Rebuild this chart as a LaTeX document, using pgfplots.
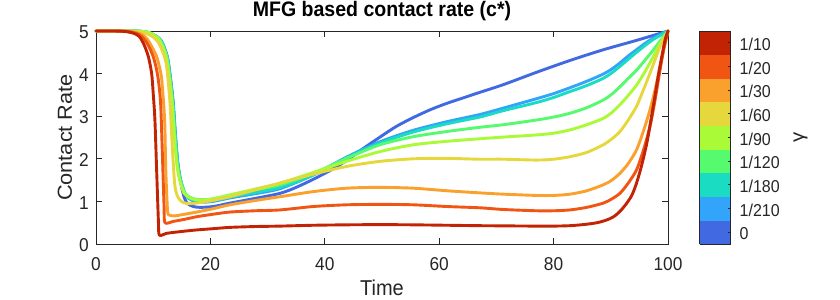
\documentclass[border=0pt]{standalone}
\usepackage{pgfplots}
\pgfplotsset{compat=1.18}
\usepackage{fontspec}
\setmainfont{Liberation Sans}[FakeStretch=0.93]
\newfontfamily\rotfont{Liberation Sans}[FakeStretch=1.07]
\definecolor{axgray}{RGB}{38,38,38}
\definecolor{c0}{RGB}{65,105,225}
\definecolor{c210}{RGB}{50,165,250}
\definecolor{c180}{RGB}{25,220,195}
\definecolor{c120}{RGB}{85,250,110}
\definecolor{c90}{RGB}{170,250,55}
\definecolor{c60}{RGB}{230,215,60}
\definecolor{c30}{RGB}{250,160,45}
\definecolor{c20}{RGB}{240,85,20}
\definecolor{c10}{RGB}{195,35,5}
\newcommand{\tickfont}{\fontsize{18.6bp}{20bp}\selectfont}
\newcommand{\cbfont}{\fontsize{17.2bp}{20bp}\selectfont}
\begin{document}
\begin{tikzpicture}
\path[use as bounding box] (0,0) rectangle (840bp,300bp);
\begin{axis}[
  at={(96bp,56bp)}, anchor=south west, scale only axis,
  width=572bp, height=213bp,
  xmin=0, xmax=100, ymin=0, ymax=5,
  clip=false,
  xtick={0,20,...,100}, ytick={0,1,...,5},
  tick align=inside, xtick pos=both, ytick pos=both,
  major tick length=5.7bp,
  axis line style={draw=axgray, line width=0.75bp},
  every tick/.style={draw=axgray, line width=0.75bp},
  /pgf/number format/assume math mode=true,
  xticklabel style={font=\tickfont, text=axgray, anchor=base, inner sep=0pt, yshift=-26bp},
  yticklabel style={font=\tickfont, text=axgray, anchor=base east, inner sep=0pt, xshift=-7bp, yshift=-7.7bp},
  title={MFG based contact rate (c*)},
  title style={font=\bfseries\fontsize{21bp}{24bp}\selectfont, text=black, at={(axis description cs:0.5,1)}, anchor=base, yshift=9bp},
  xlabel={Time},
  xlabel style={font=\fontsize{21.5bp}{24bp}\selectfont, text=axgray, at={(axis description cs:0.5,0)}, anchor=base, yshift=-51bp},
  ylabel={Contact Rate},
  ylabel style={font=\rotfont\fontsize{20.3bp}{24bp}\selectfont, text=axgray, at={(axis description cs:-0.04196,0.5)}, anchor=base},
  colormap={gam}{rgb255=(65,105,225) rgb255=(50,165,250) rgb255=(25,220,195) rgb255=(85,250,110) rgb255=(170,250,55) rgb255=(230,215,60) rgb255=(250,160,45) rgb255=(240,85,20) rgb255=(195,35,5)},
  colormap access=piecewise constant,
  point meta min=0, point meta max=9,
  colorbar,
  colorbar style={
    at={(parent axis.north east)}, anchor=north west, xshift=23bp,
    scale only axis, width=31bp, height=213bp,
    ytick={0.5,1.5,2.5,3.5,4.5,5.5,6.5,7.5,8.5},
    yticklabels={0,1/210,1/180,1/120,1/90,1/60,1/30,1/20,1/10},
    ytick pos=right, yticklabel pos=right,
    tick align=inside, major tick length=3bp,
    axis line style={draw=axgray, line width=0.75bp},
    every tick/.style={draw=axgray, line width=0.75bp},
    yticklabel style={font=\cbfont, text=axgray, anchor=base west, inner sep=0pt, xshift=9bp, yshift=-7.6bp},
  },
  every axis plot/.append style={line width=2.9bp, smooth, tension=0.45, line join=round, line cap=round},
]
% gamma = 0
\addplot[c0] coordinates {(0,5) (6,5) (8,4.99) (9.5,4.95) (11.3,4.79) (12.45,4.40) (13.05,3.85) (13.5,3.30) (13.9,2.52) (14.3,1.9) (14.8,1.45) (15.4,1.1) (16.0,0.95) (17,0.88) (18.2,0.86) (20.5,0.88) (23.4,0.96) (27.8,1.07) (32.2,1.19) (35,1.33) (38,1.52) (41,1.73) (43.8,1.96) (46.7,2.24) (49.65,2.51) (52.5,2.76) (55.5,2.97) (58.4,3.15) (61.3,3.30) (64.2,3.43) (67.1,3.56) (71.2,3.74) (77,4.03) (82.9,4.31) (88.7,4.56) (94.5,4.78) (100,5)};
% gamma = 1/210
\addplot[c210] coordinates {(0,5) (6,5) (8,4.99) (9.5,4.95) (11.3,4.79) (12.45,4.40) (13.05,3.85) (13.5,3.30) (13.9,2.52) (14.3,1.9) (14.8,1.51) (15.65,1.15) (16.7,1.03) (18.2,0.98) (20.5,1.0) (23.4,1.08) (27.8,1.18) (32.2,1.30) (38,1.62) (43.8,2.04) (49.65,2.40) (55.5,2.67) (61.3,2.87) (67.1,3.04) (71.2,3.19) (77,3.41) (80,3.53) (82.9,3.67) (85.8,3.82) (88.7,3.99) (90.2,4.11) (91.6,4.25) (93,4.41) (94.5,4.56) (96,4.71) (97.4,4.83) (98.7,4.92) (100,5)};
% gamma = 1/180
\addplot[c180] coordinates {(0,5) (6,5) (8,4.99) (9.5,4.95) (11.25,4.79) (12.4,4.40) (13.0,3.85) (13.45,3.30) (13.85,2.52) (14.25,1.9) (14.75,1.51) (15.6,1.17) (16.7,1.05) (18.2,1.0) (20.5,1.02) (23.4,1.10) (27.8,1.21) (32.2,1.33) (38,1.62) (43.8,2.02) (49.65,2.37) (55.5,2.63) (61.3,2.82) (67.1,2.98) (71.2,3.13) (77,3.32) (80,3.44) (82.9,3.58) (85.8,3.72) (88.7,3.89) (90.2,4.02) (91.6,4.17) (93,4.33) (94.5,4.50) (96,4.66) (97.4,4.80) (98.7,4.9) (100,5)};
% gamma = 1/120
\addplot[c120] coordinates {(0,5) (6,5) (8,4.99) (9.5,4.95) (11.19,4.79) (12.36,4.40) (12.94,3.85) (13.4,3.30) (13.8,2.52) (14.2,1.9) (14.7,1.51) (15.56,1.19) (16.7,1.08) (18.2,1.04) (20.5,1.06) (23.4,1.15) (27.8,1.27) (32.2,1.39) (38,1.66) (43.8,2.01) (49.65,2.33) (55.5,2.52) (61.3,2.64) (67.1,2.74) (71.2,2.80) (77,2.91) (80,2.98) (82.9,3.07) (85.8,3.2) (88.7,3.38) (90.2,3.52) (91.6,3.69) (93,3.88) (94.5,4.08) (96,4.32) (97.4,4.55) (98.7,4.78) (100,5)};
% gamma = 1/90
\addplot[c90] coordinates {(0,5) (6,5) (8,4.99) (9.5,4.95) (11.0,4.8) (12.2,4.42) (12.85,3.85) (13.3,3.30) (13.7,2.52) (14.1,1.9) (14.6,1.51) (15.4,1.19) (16.6,1.07) (18.2,1.03) (20.5,1.06) (23.4,1.15) (27.8,1.29) (32.2,1.43) (38,1.68) (43.8,1.94) (49.65,2.17) (55.5,2.33) (61.3,2.41) (67.1,2.47) (71.2,2.51) (77,2.56) (80,2.6) (82.9,2.68) (85.8,2.8) (88.7,2.95) (90.2,3.09) (91.6,3.27) (93,3.48) (94.5,3.73) (96,4.05) (97.4,4.39) (98.7,4.72) (100,5)};
% gamma = 1/60
\addplot[c60] coordinates {(0,5) (5,5) (7.5,4.98) (9.5,4.9) (10.8,4.75) (11.7,4.5) (12.36,4.16) (12.94,3.30) (13.4,2.13) (13.81,1.35) (14.4,1.08) (15.27,0.97) (16.5,0.95) (17.6,0.96) (19.9,1.01) (23.4,1.11) (27.8,1.27) (32.2,1.43) (38,1.64) (43.8,1.82) (49.65,1.94) (55.5,2.00) (61.3,2.01) (67.1,1.99) (71.2,1.99) (77,1.97) (80,1.99) (82.9,2.05) (85.8,2.15) (88.7,2.33) (90.2,2.47) (91.6,2.64) (93,2.9) (94.5,3.23) (95.7,3.62) (96.85,4.01) (97.8,4.35) (98.6,4.63) (100,5)};
% gamma = 1/30
\addplot[c30] coordinates {(0,5) (4.5,5) (6.5,4.98) (8,4.92) (9,4.8) (9.8,4.62) (10.6,4.40) (11.1,4.15) (11.5,3.85) (12.0,2.91) (12.2,1.74) (12.5,0.80) (12.8,0.68) (13.8,0.66) (14.7,0.68) (17.6,0.75) (20.5,0.83) (23.4,0.92) (27.8,1.02) (32.2,1.11) (38,1.23) (43.8,1.31) (49.65,1.33) (55.5,1.31) (61.3,1.25) (67.1,1.20) (71.2,1.17) (77,1.14) (80,1.14) (82.9,1.17) (85.8,1.25) (88.7,1.39) (90.2,1.5) (91.6,1.66) (93,1.88) (94.5,2.21) (95.7,2.65) (96.85,3.15) (97.7,3.6) (98.6,4.16) (99.3,4.6) (100,5)};
% gamma = 1/20
\addplot[c20] coordinates {(0,5) (4,5) (6,4.98) (7.5,4.92) (8.5,4.8) (9.3,4.62) (10.0,4.40) (10.5,4.15) (10.9,3.85) (11.3,3.30) (11.6,2.13) (11.9,0.88) (12.06,0.50) (13.5,0.53) (15.5,0.58) (17.6,0.64) (20.5,0.70) (23.4,0.75) (27.8,0.78) (32.2,0.80) (38,0.88) (43.8,0.92) (49.65,0.93) (55.5,0.92) (61.3,0.88) (67.1,0.85) (71.2,0.81) (77,0.78) (80,0.78) (82.9,0.80) (85.8,0.86) (88.7,0.96) (90.2,1.06) (91.6,1.19) (93,1.42) (94.5,1.74) (95.7,2.2) (96.85,2.76) (97.7,3.35) (98.6,4.08) (99.3,4.6) (100,5)};
% gamma = 1/10
\addplot[c10] coordinates {(0,5) (3,5) (5,4.99) (6.5,4.95) (7.5,4.88) (8.3,4.71) (9.15,4.40) (9.73,4.0) (10.0,3.54) (10.3,2.91) (10.6,1.74) (10.9,0.57) (11.07,0.21) (12.3,0.25) (14.7,0.29) (17.6,0.33) (20.5,0.36) (23.4,0.39) (27.8,0.41) (32.2,0.42) (38,0.44) (43.8,0.45) (49.65,0.455) (55.5,0.45) (61.3,0.44) (67.1,0.43) (72,0.425) (77,0.42) (80,0.42) (82.9,0.43) (85.5,0.46) (87.6,0.50) (89.2,0.56) (90.5,0.64) (91.7,0.78) (92.8,0.96) (93.7,1.15) (94.5,1.43) (95.4,1.85) (96.3,2.37) (97.0,2.9) (97.7,3.46) (98.3,3.95) (98.9,4.39) (99.5,4.8) (100,5)};
\node[rotate=90, anchor=base, font=\rotfont\fontsize{19bp}{22bp}\selectfont, text=axgray] at (rel axis cs:1.237,0.5) {γ};
\end{axis}
\end{tikzpicture}
\end{document}
